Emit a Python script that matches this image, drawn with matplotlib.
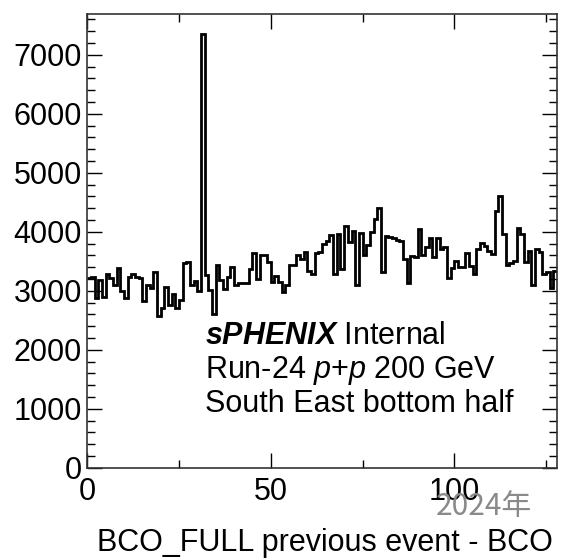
import matplotlib
matplotlib.use("Agg")
import matplotlib.pyplot as plt
import numpy as np

plt.rcParams['font.family'] = ['Liberation Sans', 'Noto Sans CJK SC', 'DejaVu Sans']
plt.rcParams['mathtext.fontset'] = 'custom'
plt.rcParams['mathtext.rm'] = 'Liberation Sans'
plt.rcParams['mathtext.it'] = 'Liberation Sans:italic'
plt.rcParams['mathtext.bf'] = 'Liberation Sans:italic:bold'

# Bin edges 0..128 (one bin per BCO difference)
bin_edges = list(range(0, 129))
counts = [
    3209, 3237, 2870, 3180, 2900, 3277, 3209, 3096, 3378, 2994,
    2870, 3237, 3277, 3237, 3209, 2825, 3096, 3040, 3311, 2576,
    2712, 3068, 2750, 2950, 2700, 2850, 3463, 3491, 3100, 3170,
    2990, 7350, 3265, 3011, 2604, 3435, 3181, 3023, 3226, 3395,
    3096, 3135, 3135, 3135, 3370, 3633, 3192, 3600, 3605, 3485,
    3152, 3245, 3150, 2975, 3090, 3440, 3440, 3600, 3540, 3650,
    3330, 3280, 3640, 3650, 3800, 3850, 3940, 3280, 3960, 3360,
    4090, 3820, 4010, 3100, 3980, 3605, 3774, 4000, 4209, 4400,
    3322, 3932, 3904, 3887, 3859, 3848, 3540, 3124, 3590, 3576,
    4040, 3605, 3746, 3890, 3570, 3890, 3710, 3734, 3209, 3378,
    3508, 3395, 3395, 3633, 3418, 3277, 3706, 3814, 3750, 3675,
    3621, 4345, 4610, 3960, 3440, 3463, 3500, 4056, 3955, 3480,
    3672, 3096, 3706, 3660, 3277, 3322, 3050, 3330,
]
x_major = [0, 50, 100]
x_minor = [25, 75, 125]
y_major = [0, 1000, 2000, 3000, 4000, 5000, 6000, 7000]
y_minor_step = 200

xlabel = "BCO_FULL previous event - BCO"
label_lines = [r"$\mathbf{sPHENIX}$ Internal",
               r"Run-24 $p$+$p$ 200 GeV",
               "South East bottom half"]
stamp = "2024年"

W, H = 564, 558
fig = plt.figure(figsize=(W / 100, H / 100), dpi=100)
x0, x1, ybot, ytop = 87.3, 557.0, 467.7, 14.0
ax = fig.add_axes([x0 / W, (H - ybot) / H, (x1 - x0) / W, (ybot - ytop) / H])

ax.stairs(counts, bin_edges, baseline=None, color='black', linewidth=2.0)

ax.set_xlim(0, 128)
ax.set_ylim(0, 7690)
ax.set_xticks(x_major)
ax.set_xticks(x_minor, minor=True)
ax.set_yticks(y_major)
ax.set_yticks(np.arange(0, 7690, y_minor_step), minor=True)
ax.set_xticklabels([str(v) for v in x_major])
ax.set_yticklabels([str(v) for v in y_major])

ax.tick_params(which='both', direction='in', top=True, right=True, colors='black',
               labelsize=22)
ax.tick_params(which='major', length=10.5, width=1.0)
ax.tick_params(which='minor', length=5.5, width=1.0)
ax.tick_params(axis='x', which='major', pad=7)
ax.tick_params(axis='y', which='major', pad=4)
for sp in ax.spines.values():
    sp.set_linewidth(1.2)
    sp.set_color('#333333')

fig.text(553 / W, 1 - 550.5 / H, xlabel, ha='right', va='baseline', fontsize=22)

base_y = [344, 378, 412]
for line, by in zip(label_lines, base_y):
    fig.text(205 / W, 1 - by / H, line, ha='left', va='baseline', fontsize=22)

fig.text(436 / W, 1 - 515 / H, stamp, ha='left', va='baseline', fontsize=21.5,
         color='#8a8a8a', family=['Noto Sans CJK SC', 'DejaVu Sans'])

fig.savefig("out.png", dpi=100)
